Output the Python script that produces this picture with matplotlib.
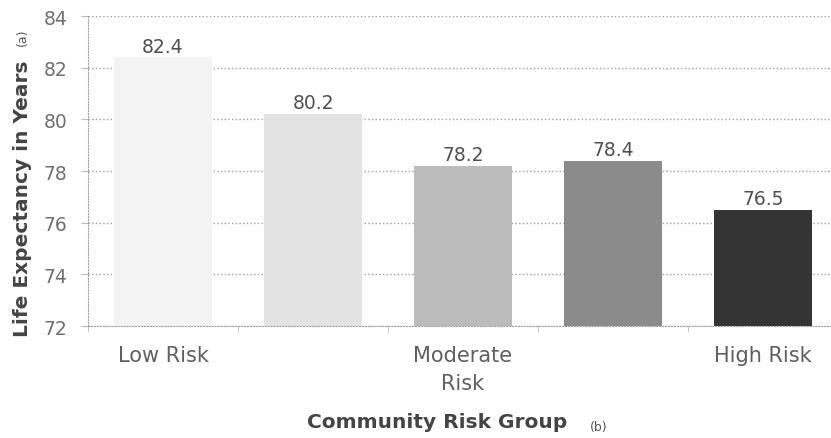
import numpy as np
from matplotlib import pyplot as plt

groups = ['Low Risk', '', 'Moderate\nRisk', '', 'High Risk']
life_exp = [82.4, 80.2, 78.2, 78.4, 76.5]
bar_colors = ['#f3f3f3', '#e3e3e3', '#bcbcbc', '#8b8b8b', '#343434']
y_ticks = [72, 74, 76, 78, 80, 82, 84]

plt.rcParams['font.family'] = ['DejaVu Sans']

fig = plt.figure(figsize=(8.31, 4.39), dpi=100)
ax = fig.add_axes([88 / 831, 1 - 327 / 439, 750 / 831, 310 / 439])

x = np.arange(len(life_exp))
ax.bar(x, life_exp, width=0.65, color=bar_colors, zorder=2)
ax.set_ylim(72, 84)
ax.set_xlim(-0.5, len(life_exp) - 0.5)
ax.set_yticks(y_ticks)
ax.set_yticklabels([str(t) for t in y_ticks], fontsize=13.5, color='#707070')

# value labels on top of each bar
for xi, v in zip(x, life_exp):
    ax.text(xi, v + 0.07, f'{v:.1f}', ha='center', va='bottom',
            fontsize=13.5, color='#505050')

# category labels sit under the bars, ticks at the boundaries
ax.set_xticks(x)
ax.set_xticklabels(groups, fontsize=15, color='#606060', linespacing=1.45)
ax.tick_params(axis='x', length=0, pad=14)
ax.set_xticks(np.arange(len(life_exp) + 1) - 0.5, minor=True)
ax.tick_params(axis='x', which='minor', length=4, color='#bbbbbb')
ax.tick_params(axis='y', length=5, color='#bbbbbb', pad=10)

ax.grid(axis='y', linestyle=':', color='#a0a0a0', linewidth=1, zorder=0)
for side in ['top', 'right']:
    ax.spines[side].set_visible(False)
for side in ['left', 'bottom']:
    ax.spines[side].set_linestyle(':')
    ax.spines[side].set_color('#a0a0a0')

fig.text(0.027, 1 - 337 / 439, 'Life Expectancy in Years', rotation=90,
         ha='center', va='bottom', fontsize=14.5, fontweight='bold',
         color='#444444')
fig.text(0.027, 1 - 46 / 439, '(a)', rotation=90, ha='center', va='bottom',
         fontsize=9, color='#555555')
fig.text(307 / 831, 1 - 428 / 439, 'Community Risk Group', ha='left',
         va='baseline', fontsize=14.5, fontweight='bold', color='#444444')
fig.text(590 / 831, 1 - 431 / 439, '(b)', ha='left', va='baseline',
         fontsize=9, color='#555555')

fig.savefig('out.png', dpi=100)
